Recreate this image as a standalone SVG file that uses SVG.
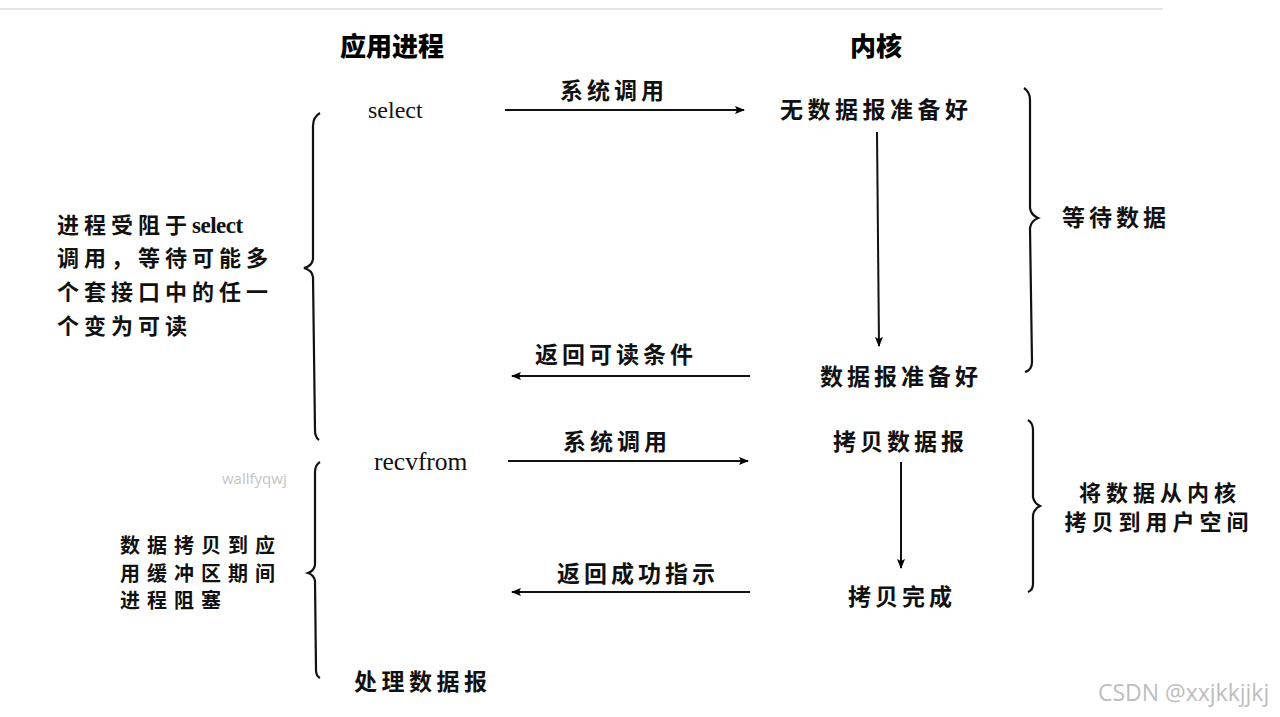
<svg xmlns="http://www.w3.org/2000/svg" width="1280" height="717" viewBox="0 0 1280 717">
<defs>
<marker id="ah" viewBox="0 0 10 10" refX="9" refY="5" markerWidth="10" markerHeight="10" markerUnits="userSpaceOnUse" orient="auto">
<path d="M0,1 L10,5 L0,9 L2,5 Z" fill="#000"/>
</marker>
<style>
.cn{font-family:"Noto Sans CJK SC","Noto Sans CJK JP",sans-serif;font-size:23px;font-weight:bold;fill:#111;letter-spacing:4px}
.ml{font-size:22px;letter-spacing:5px}
.sm{font-size:20px;letter-spacing:7px}
.hd{font-family:"Noto Sans CJK SC",sans-serif;font-size:26px;font-weight:900;fill:#000}
.en{font-family:"Liberation Serif",serif;font-size:24px;fill:#111}
.ln{stroke:#111;stroke-width:2;fill:none}
.br{stroke:#111;stroke-width:2.2;fill:none}
.wm{font-family:"Open Sans","Noto Sans",sans-serif;fill:#c4c4c4}
</style>
</defs>
<rect width="1280" height="717" fill="#fff"/>
<line x1="0" y1="9" x2="1163" y2="9" stroke="#dcdcdc" stroke-width="1.5"/>

<g id="headers">
<text class="hd" x="392" y="56" text-anchor="middle">应用进程</text>
<text class="hd" x="876" y="56" text-anchor="middle">内核</text>
</g>

<g id="node-select"><text class="en" x="368" y="118">select</text></g>
<g id="node-nodata"><text class="cn" x="780" y="118" style="letter-spacing:4.5px">无数据报准备好</text></g>
<g id="node-ready"><text class="cn" x="820" y="385">数据报准备好</text></g>
<g id="node-recvfrom"><text class="en" x="374" y="470" style="font-size:25.5px">recvfrom</text></g>
<g id="node-copy"><text class="cn" x="833" y="450">拷贝数据报</text></g>
<g id="node-done"><text class="cn" x="848" y="605">拷贝完成</text></g>
<g id="node-process"><text class="cn" x="354" y="690" style="letter-spacing:4.5px">处理数据报</text></g>

<g id="node-left1">
<text class="cn ml" x="57" y="233">进程受阻于<tspan class="en" style="font-size:23px;letter-spacing:-0.5px">select</tspan></text>
<text class="cn ml" x="57" y="266">调用，等待可能多</text>
<text class="cn ml" x="57" y="300">个套接口中的任一</text>
<text class="cn ml" x="57" y="334">个变为可读</text>
</g>
<g id="node-left2">
<text class="cn sm" x="120" y="553">数据拷贝到应</text>
<text class="cn sm" x="120" y="581">用缓冲区期间</text>
<text class="cn sm" x="120" y="608">进程阻塞</text>
</g>
<g id="node-right1"><text class="cn" x="1062" y="226">等待数据</text></g>
<g id="node-right2">
<text class="cn ml" x="1160" y="501" text-anchor="middle">将数据从内核</text>
<text class="cn ml" x="1159" y="530" text-anchor="middle">拷贝到用户空间</text>
</g>

<g id="connectors">
<line class="ln" x1="505" y1="110" x2="744" y2="110" marker-end="url(#ah)"/>
<text class="cn" x="560" y="99">系统调用</text>
<line class="ln" x1="877" y1="132" x2="879" y2="346" marker-end="url(#ah)"/>
<line class="ln" x1="750" y1="376" x2="512" y2="376" marker-end="url(#ah)"/>
<text class="cn" x="535" y="363">返回可读条件</text>
<line class="ln" x1="508" y1="461" x2="748" y2="461" marker-end="url(#ah)"/>
<text class="cn" x="563" y="450">系统调用</text>
<line class="ln" x1="901" y1="462" x2="901" y2="568" marker-end="url(#ah)"/>
<line class="ln" x1="750" y1="592" x2="512" y2="592" marker-end="url(#ah)"/>
<text class="cn" x="557" y="582">返回成功指示</text>
</g>

<g id="braces">
<path class="br" d="M320,113 Q313,117 313,126 L313,259 Q312,266 304,268 Q312,270 313,277 L315,430 Q315,437 319,440"/>
<path class="br" d="M320,462 Q315,465 315,472 L315,565 Q314,571 308,573 Q314,575 315,581 L316,670 Q316,676 320,678"/>
<path class="br" d="M1024,88 Q1030,92 1030,100 L1030,208 Q1031,215 1038,218 Q1031,221 1030,228 L1032,362 Q1032,370 1025,372"/>
<path class="br" d="M1028,420 Q1033,423 1033,430 L1033,497 Q1034,503 1040,506 Q1034,509 1033,515 L1033,584 Q1033,590 1028,592"/>
</g>

<g id="watermarks">
<text class="wm" x="222" y="484" style="font-size:15px">wallfyqwj</text>
<text class="wm" x="1098" y="701" style="font-size:23px;fill:#bdbdbd">CSDN @xxjkkjjkj</text>
</g>
</svg>
